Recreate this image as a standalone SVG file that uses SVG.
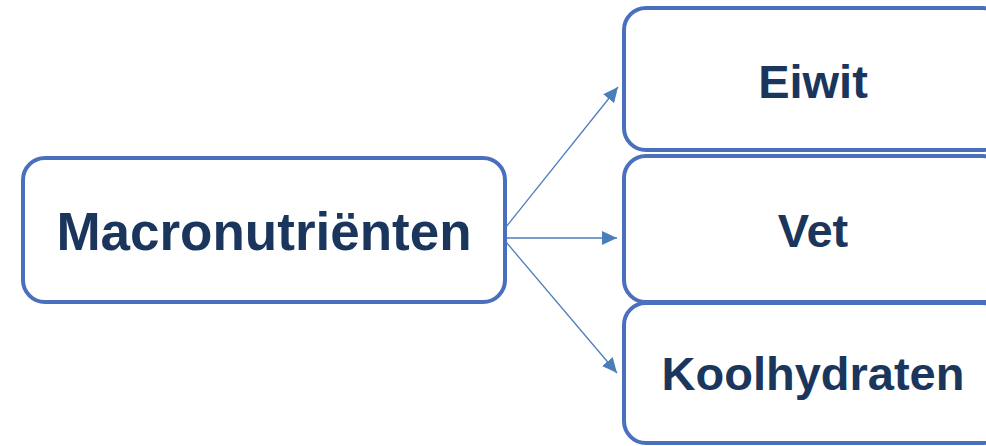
<svg xmlns="http://www.w3.org/2000/svg" width="986" height="446" viewBox="0 0 986 446">
<style>
.box{fill:#fff;stroke:#4a70bd;stroke-width:4}
.lbl{font-family:"Liberation Sans",Arial,sans-serif;font-weight:bold;fill:#1b365d;text-anchor:middle}
.conn{stroke:#4a7ebb;stroke-width:1.3;fill:none}
</style>
<defs>
<marker id="ah" markerUnits="userSpaceOnUse" markerWidth="16" markerHeight="14" refX="15" refY="7" orient="auto">
<path d="M0,0 L15,7 L0,14 z" fill="#4a7ebb"/>
</marker>
</defs>
<rect width="986" height="446" fill="#fff"/>
<g id="macro">
<rect class="box" x="23" y="158" width="482" height="144" rx="22"/>
<text class="lbl" x="264" y="250" font-size="53">Macronutriënten</text>
</g>
<g id="eiwit">
<rect class="box" x="624" y="8" width="380" height="142" rx="22"/>
<text class="lbl" x="813" y="98" font-size="47">Eiwit</text>
</g>
<g id="vet">
<rect class="box" x="624" y="156" width="380" height="146" rx="22"/>
<text class="lbl" x="813" y="247" font-size="47">Vet</text>
</g>
<g id="koolhydraten">
<rect class="box" x="624" y="303" width="380" height="140" rx="22"/>
<text class="lbl" x="813" y="390" font-size="47">Koolhydraten</text>
</g>
<g id="connectors">
<line class="conn" x1="506" y1="227" x2="618" y2="87" marker-end="url(#ah)"/>
<line class="conn" x1="506" y1="238" x2="617" y2="238" marker-end="url(#ah)"/>
<line class="conn" x1="506" y1="242" x2="617" y2="373" marker-end="url(#ah)"/>
</g>
</svg>
